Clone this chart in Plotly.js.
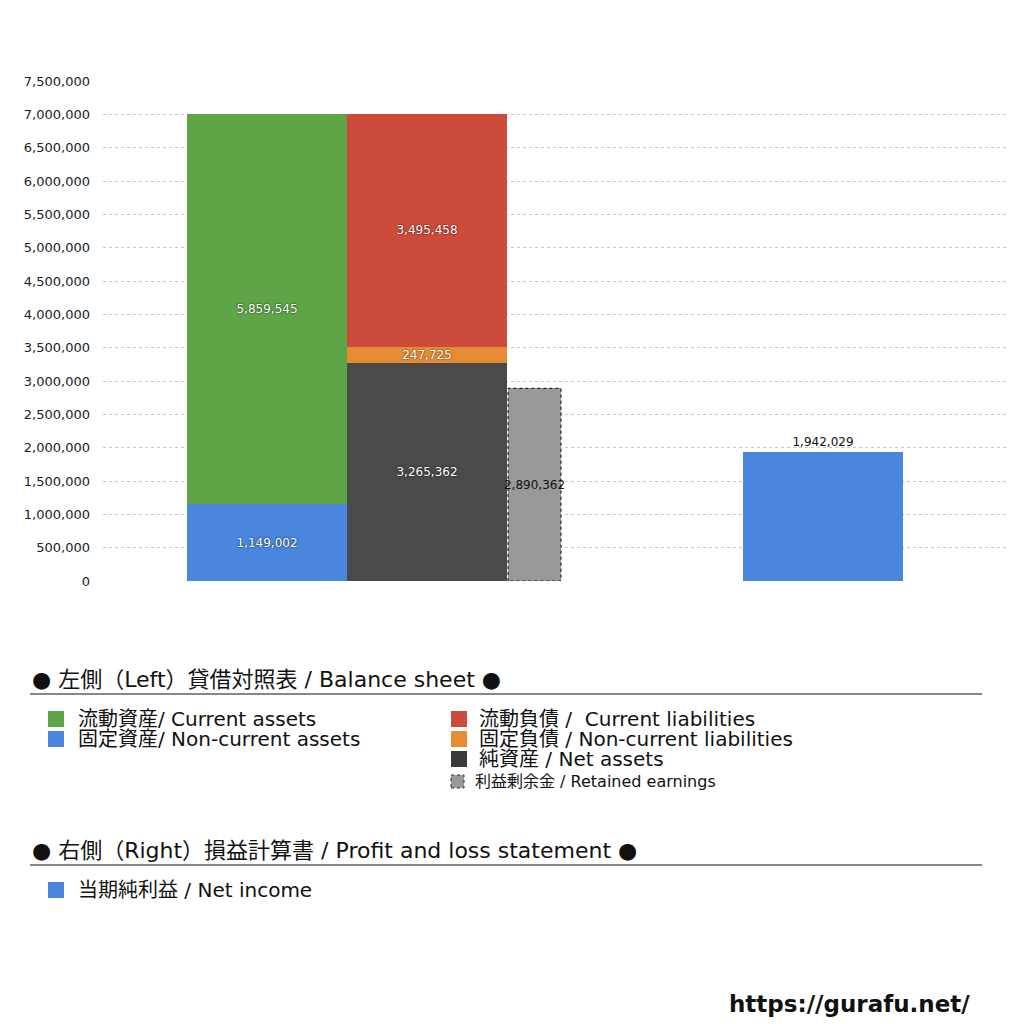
<!DOCTYPE html>
<html>
<head>
<meta charset="utf-8">
<script src="https://cdn.plot.ly/plotly-3.0.1.min.js"></script>
<style>
  html, body { margin: 0; padding: 0; background: #fff; }
  #chart { width: 1024px; height: 1024px; }
</style>
</head>
<body>
<div id="chart"></div>
<script>
// balance sheet (left) and P&L (right)
var currentAssets = [5859545];
var nonCurrentAssets = [1149002];
var currentLiabilities = [3495458];
var nonCurrentLiabilities = [247725];
var netAssets = [3265362];
var retainedEarnings = [2890362];
var netIncome = [1942029];

var legendLeftA = ['流動資産/ Current assets', '固定資産/ Non-current assets'];
var legendLeftB = ['流動負債 /  Current liabilities', '固定負債 / Non-current liabilities', '純資産 / Net assets'];
var legendSmall = '利益剰余金 / Retained earnings';
var legendRight = ['当期純利益 / Net income'];
var heading1 = '● 左側（Left）貸借対照表 / Balance sheet ●';
var heading2 = '● 右側（Right）損益計算書 / Profit and loss statement ●';

var FONT = '"DejaVu Sans", "Noto Sans CJK JP", sans-serif';

// plot area in pixels (used to place the legend block under the chart)
var L = 103, R = 1008, T = 81, B = 581;
function px(x) { return (x - L) / (R - L); }
function py(y) { return (B - y) / (B - T); }

var inLabel = {size: 12, color: '#fff', family: FONT, shadow: '0px 0px 2px rgba(0,0,0,0.9)'};

var xA = 1.025, xB = 2.025, xR = 2.697, xP = 4.5;
var W = 1, wR = 0.331;

function bar(x, y, color, font, w, pos) {
  return {
    type: 'bar', x: [x], y: y, width: [w],
    marker: {color: color, line: {width: 0}},
    texttemplate: '%{y:,}', textposition: pos || 'inside', textangle: 0,
    insidetextanchor: 'middle', constraintext: 'none',
    textfont: font, outsidetextfont: font, insidetextfont: font,
    hoverinfo: 'skip', showlegend: false
  };
}

var data = [
  bar(xA, nonCurrentAssets, '#4a86dd', inLabel, W),
  bar(xA, currentAssets, '#5ea547', inLabel, W),
  bar(xB, netAssets, '#4a4a4a', inLabel, W),
  bar(xB, nonCurrentLiabilities, '#e68c35', inLabel, W),
  bar(xB, currentLiabilities, '#cd4b3a', inLabel, W),
  bar(xR, retainedEarnings, '#999999', {size: 12, color: '#111', family: FONT}, wR),
  bar(xP, netIncome, '#4a86dd', {size: 12, color: '#111', family: FONT}, W, 'outside')
];

// dotted outline of the retained earnings bar
var rv = retainedEarnings[0];
data.push({
  type: 'scatter', mode: 'lines',
  x: [xR - wR / 2, xR - wR / 2, xR + wR / 2, xR + wR / 2, xR - wR / 2],
  y: [0, rv, rv, 0, 0],
  line: {color: '#000', width: 1, dash: 'dot'},
  hoverinfo: 'skip', showlegend: false
});

var annotations = [];
var shapes = [];

function text(x, y, s, size, extra) {
  var a = {xref: 'paper', yref: 'paper', x: px(x), y: py(y), text: s, showarrow: false,
    xanchor: 'left', yanchor: 'middle', font: {size: size, color: '#111', family: FONT}};
  for (var k in extra) a[k] = extra[k];
  annotations.push(a);
}
function square(x, y, s, color, dash) {
  shapes.push({type: 'rect', xref: 'paper', yref: 'paper',
    x0: px(x), x1: px(x + s), y0: py(y + s), y1: py(y),
    fillcolor: color, line: dash ? {color: '#333', width: 1, dash: 'dot'} : {width: 0}});
}
function rule(y) {
  shapes.push({type: 'line', xref: 'paper', yref: 'paper',
    x0: px(30), x1: px(982), y0: py(y), y1: py(y), line: {color: '#111', width: 1}});
}

text(30, 679, heading1, 22);
rule(694);
var colA = ['#5ea547', '#4a86dd'];
legendLeftA.forEach(function (s, i) {
  square(48, 711 + i * 20, 16, colA[i]);
  text(76, 719 + i * 20, s, 20);
});
var colB = ['#cd4b3a', '#e68c35', '#3a3a3a'];
legendLeftB.forEach(function (s, i) {
  square(451, 711 + i * 20, 16, colB[i]);
  text(477, 719 + i * 20, s, 20);
});
square(451, 775, 13, '#999999', true);
text(473, 781, legendSmall, 16);

text(30, 850, heading2, 22);
rule(865);
legendRight.forEach(function (s, i) {
  square(48, 882 + i * 20, 16, '#4a86dd');
  text(76, 890 + i * 20, s, 20);
});

text(972, 1004, '<b>https://gurafu.net/</b>', 23, {xanchor: 'right', font: {size: 23, color: '#111', family: '"DejaVu Sans", sans-serif'}});

var layout = {
  width: 1024, height: 1024,
  margin: {l: L, r: 1024 - R, t: T, b: 1024 - B},
  paper_bgcolor: '#fff', plot_bgcolor: '#fff',
  barmode: 'stack',
  showlegend: false,
  font: {family: FONT, color: '#222'},
  xaxis: {range: [0, (R - L) / 160], showgrid: false, zeroline: false, showticklabels: false, ticks: '', fixedrange: true},
  yaxis: {range: [0, 7500000], dtick: 500000, tickformat: ',d', showgrid: true, gridcolor: '#c8c8c8',
    griddash: 'dot', gridwidth: 1, zeroline: false, ticks: '', ticklabelstandoff: 12,
    tickfont: {size: 13, color: '#222', family: FONT}, fixedrange: true},
  annotations: annotations,
  shapes: shapes
};

Plotly.newPlot('chart', data, layout, {displayModeBar: false, staticPlot: true});
</script>
</body>
</html>
